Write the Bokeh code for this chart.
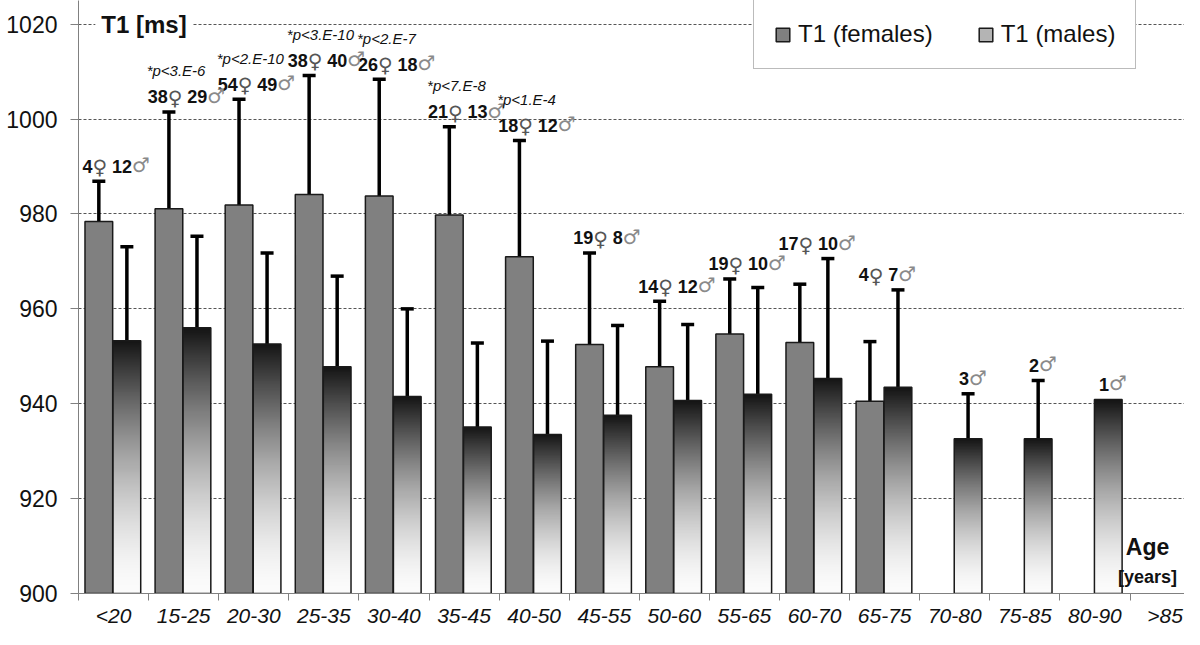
import numpy as np
from bokeh.plotting import figure
from bokeh.models import (Range1d, FixedTicker, ColumnDataSource, Whisker, TeeHead,
                          Legend, LegendItem, Label, LinearColorMapper)
from bokeh.embed import file_html
from bokeh.resources import INLINE
from bokeh.core.properties import value

nan = float("nan")

# ---------------- data ----------------
age_groups = ["<20", "15-25", "20-30", "25-35", "30-40", "35-45", "40-50", "45-55",
              "50-60", "55-65", "60-70", "65-75", "70-80", "75-85", "80-90", ">85"]
t1_female = [978.4, 981.1, 981.9, 984.1, 983.8, 979.8, 971.0, 952.5,
             947.8, 954.7, 952.9, 940.5, nan, nan, nan, nan]
sd_female = [8.5, 20.4, 22.3, 25.1, 24.6, 18.6, 24.5, 19.3,
             13.8, 11.6, 12.3, 12.6, nan, nan, nan, nan]
t1_male = [953.3, 956.0, 952.6, 947.8, 941.5, 935.1, 933.5, 937.6,
           940.7, 942.0, 945.3, 943.5, 932.6, 932.6, 940.9, nan]
sd_male = [19.8, 19.3, 19.2, 19.1, 18.5, 17.7, 19.7, 18.9,
           16.0, 22.5, 25.3, 20.5, 9.5, 12.3, nan, nan]
n_female = [4, 38, 54, 38, 26, 21, 18, 19, 14, 19, 17, 4, None, None, None, None]
n_male = [12, 29, 49, 40, 18, 13, 12, 8, 12, 10, 10, 7, 3, 2, 1, None]
p_labels = ["", "*p<3.E-6", "*p<2.E-10", "*p<3.E-10", "*p<2.E-7", "*p<7.E-8", "*p<1.E-4",
            "", "", "", "", "", "", "", "", ""]
y_ticks = [900, 920, 940, 960, 980, 1000, 1020]

# ---------------- derived sources ----------------
BAR_W = 0.395
F_OFF, M_OFF = 0.29, 0.69

fx, ft, fsd = [], [], []
mx, mt, msd = [], [], []
for i in range(len(age_groups)):
    if not np.isnan(t1_female[i]):
        fx.append(i + F_OFF); ft.append(t1_female[i]); fsd.append(sd_female[i])
    if not np.isnan(t1_male[i]):
        mx.append(i + M_OFF); mt.append(t1_male[i]); msd.append(sd_male[i])

fem_src = ColumnDataSource(dict(x=fx, top=ft))
male_src = ColumnDataSource(dict(x=mx, top=mt))

werr_x, werr_lo, werr_hi = [], [], []
for x, t, s in zip(fx + mx, ft + mt, fsd + msd):
    if not np.isnan(s):
        werr_x.append(x); werr_lo.append(t - s); werr_hi.append(t + s)
err_src = ColumnDataSource(dict(base=werr_x, lower=werr_lo, upper=werr_hi))

# count labels built from segments (digits bold + thin sex symbols)
DIG_W, SYM_W, GAP = 10.0, 12.5, 7.0
seg = {"dig": dict(x=[], y=[], xo=[], t=[]),
       "fem": dict(x=[], y=[], xo=[], t=[]),
       "mal": dict(x=[], y=[], xo=[], t=[])}
p_x, p_y, p_xo, p_t = [], [], [], []
for i in range(len(age_groups)):
    tops = []
    for v, s in ((t1_female[i], sd_female[i]), (t1_male[i], sd_male[i])):
        if not np.isnan(v):
            tops.append(v + (0 if np.isnan(s) else s))
    if not tops:
        continue
    ytop = max(tops)
    parts = []
    if n_female[i] is not None:
        parts.append(("dig", str(n_female[i]), DIG_W * len(str(n_female[i]))))
        parts.append(("fem", "\u2640", SYM_W))
        parts.append(("gap", "", GAP))
    if n_male[i] is not None:
        parts.append(("dig", str(n_male[i]), DIG_W * len(str(n_male[i]))))
        parts.append(("mal", "\u2642", SYM_W))
    if parts[-1][0] == "gap":
        parts.pop()
    total = sum(w for _, _, w in parts)
    anchor = i + 0.5 if n_female[i] is not None else i + M_OFF + 0.03
    off = -total / 2
    for kind, txt, w in parts:
        if kind != "gap":
            d = seg[kind]
            d["x"].append(anchor); d["y"].append(ytop); d["xo"].append(off); d["t"].append(txt)
        off += w
    if p_labels[i]:
        p_x.append(anchor); p_y.append(ytop); p_xo.append(-total / 2 - 1); p_t.append(p_labels[i])

# ---------------- figure ----------------
W, H = 1184, 629
LEFT, BOTTOM = 78, 36
CAT_PX = 70.1
FRAME_H = H - BOTTOM
p = figure(width=W, height=H, title=None,
           x_range=Range1d(0, (W - LEFT) / CAT_PX), y_range=Range1d(900, 1025),
           output_backend="svg", toolbar_location=None,
           min_border_left=LEFT, min_border_right=0, min_border_top=0,
           min_border_bottom=BOTTOM)
p.outline_line_color = None
p.background_fill_color = "white"
p.border_fill_color = "white"

# axes
p.xaxis.ticker = FixedTicker(ticks=[i + 0.5 for i in range(len(age_groups))],
                             minor_ticks=list(range(len(age_groups) + 1)))
p.xaxis.major_label_overrides = {i + 0.5: g for i, g in enumerate(age_groups)}
p.xaxis.major_tick_out = 0
p.xaxis.major_tick_in = 0
p.xaxis.minor_tick_out = 7
p.xaxis.minor_tick_in = 0
p.xaxis.minor_tick_line_color = "#808080"
p.xaxis.axis_line_color = "#808080"
p.xaxis.major_label_text_font = "Liberation Sans"
p.xaxis.major_label_text_font_style = "italic"
p.xaxis.major_label_text_font_size = "21px"
p.xaxis.major_label_text_color = "#111111"
p.xaxis.major_label_standoff = 3

p.yaxis.ticker = FixedTicker(ticks=y_ticks)
p.yaxis.major_tick_out = 8
p.yaxis.major_tick_in = 0
p.yaxis.minor_tick_line_color = None
p.yaxis.major_tick_line_color = "#808080"
p.yaxis.axis_line_color = "#808080"
p.yaxis.major_label_text_font = "Liberation Sans"
p.yaxis.major_label_text_font_size = "23px"
p.yaxis.major_label_text_color = "#111111"
p.yaxis.major_label_standoff = 13

p.xgrid.grid_line_color = None
p.ygrid.ticker = FixedTicker(ticks=y_ticks)
p.ygrid.grid_line_color = "#555555"
p.ygrid.grid_line_dash = "3 2"
p.ygrid.grid_line_width = 1

# female bars
fem_r = p.vbar(x="x", top="top", bottom=900, width=BAR_W, source=fem_src,
               fill_color="#808080", line_color="#1a1a1a", line_width=1.5)

# male bars: vertical gradient (white at the base, dark at the top)
n_steps = 256
t = np.linspace(0, 1, n_steps)
grays = (252 - (252 - 20) * t ** 1.6).astype(int)
palette = ["#%02x%02x%02x" % (g, g, g) for g in grays]
mapper = LinearColorMapper(palette=palette, low=0, high=1)
grad = np.linspace(0, 1, n_steps).reshape(n_steps, 1)
p.image(image=[grad] * len(mx), x=[x - BAR_W / 2 for x in mx], y=[900] * len(mx),
        dw=[BAR_W] * len(mx), dh=[v - 900 for v in mt], color_mapper=mapper)
p.vbar(x="x", top="top", bottom=900, width=BAR_W, source=male_src,
       fill_alpha=0, line_color="#1a1a1a", line_width=1.5)

# hidden renderer giving the males' legend swatch
male_proxy = p.vbar(x="x", top="top", bottom=900, width=BAR_W, source=male_src,
                    fill_color="#b4b4b4", line_color="#1a1a1a", line_width=1.5,
                    visible=False)

# error bars
whisk = Whisker(source=err_src, base="base", lower="lower", upper="upper",
                line_color="black", line_width=3.5,
                upper_head=TeeHead(size=13, line_width=3.5, line_color="black"),
                lower_head=TeeHead(size=13, line_width=3.5, line_color="black"))
p.add_layout(whisk)

# count labels and p-values
CNT_YO = -15
p.text(x=seg["dig"]["x"], y=seg["dig"]["y"], text=seg["dig"]["t"], x_offset=seg["dig"]["xo"],
       y_offset=CNT_YO, text_font=value("Liberation Sans"), text_font_style="bold",
       text_font_size="18px", text_color="#111111", text_align="left", text_baseline="middle")
p.text(x=seg["fem"]["x"], y=seg["fem"]["y"], text=seg["fem"]["t"], x_offset=seg["fem"]["xo"],
       y_offset=CNT_YO + 1, text_font=value("DejaVu Sans"), text_font_size="20px",
       text_color="#555555", text_align="left", text_baseline="middle")
p.text(x=seg["mal"]["x"], y=seg["mal"]["y"], text=seg["mal"]["t"], x_offset=seg["mal"]["xo"],
       y_offset=CNT_YO - 1, text_font=value("DejaVu Sans"), text_font_size="20px",
       text_color="#8a8a8a", text_align="left", text_baseline="middle")
p.text(x=p_x, y=p_y, text=p_t, x_offset=p_xo, y_offset=-41,
       text_font=value("Liberation Sans"), text_font_style="italic", text_font_size="15px",
       text_color="#111111", text_align="left", text_baseline="middle")

# titles
p.add_layout(Label(x=0.24, y=1020, text="T1 [ms]", text_font="Liberation Sans",
                   text_font_style="bold", text_font_size="24px", text_color="#111111",
                   text_baseline="middle", text_align="left",
                   background_fill_color="white", padding=6))
p.add_layout(Label(x=15.25, y=909.9, text="Age", text_font="Liberation Sans",
                   text_font_style="bold", text_font_size="23px", text_color="#111111",
                   text_baseline="middle", text_align="center"))
p.add_layout(Label(x=15.25, y=903.4, text="[years]", text_font="Liberation Sans",
                   text_font_style="bold", text_font_size="18px", text_color="#111111",
                   text_baseline="middle", text_align="center"))

legend = Legend(items=[LegendItem(label="T1 (females)", renderers=[fem_r]),
                       LegendItem(label="T1 (males)", renderers=[male_proxy])],
                orientation="horizontal", location=(675, FRAME_H - 3 - 66),
                glyph_width=17, glyph_height=17, label_standoff=7, spacing=44,
                padding=20, margin=0, label_height=26,
                label_text_font="Liberation Sans", label_text_font_size="24px",
                label_text_color="#111111",
                border_line_color="#777777", border_line_width=1,
                background_fill_color="white", background_fill_alpha=1.0,
                inactive_fill_alpha=0.0)
p.add_layout(legend)

open("out.html", "w").write(file_html(p, INLINE))
